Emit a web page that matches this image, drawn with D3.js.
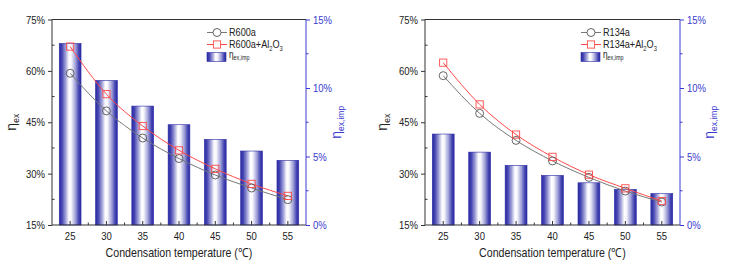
<!DOCTYPE html>
<html><head><meta charset="utf-8">
<script src="https://cdn.jsdelivr.net/npm/d3@7/dist/d3.min.js"></script>
<style>body{margin:0;background:#fff}svg{display:block;font-family:"Liberation Sans",Arial,sans-serif}</style>
</head><body><svg id="c" width="730" height="268"></svg>
<script>
const categories = ["25","30","35","40","45","50","55"];
const leftTicks = [15,30,45,60,75];
const rightTicks = [0,5,10,15];
const r600a = [59.3,48.3,40.4,34.4,29.6,25.8,22.4];
const r600aAl = [67.1,53.2,43.9,36.8,31.4,27.0,23.5];
const r600aImp = [13.25,10.55,8.68,7.32,6.25,5.40,4.72];
const r134a = [58.6,47.6,39.7,33.7,28.9,24.9,21.7];
const r134aAl = [62.4,50.2,41.4,34.9,29.7,25.7,22.0];
const r134aImp = [6.64,5.32,4.35,3.62,3.08,2.60,2.29];

const FONT = '"Liberation Sans",Arial,sans-serif';
const SQ = 0.83;
function squeeze(sel, s) {
  sel.each(function() {
    const t = d3.select(this);
    const ax = +(t.attr("x") || 0);
    const prev = t.attr("transform") || "";
    t.attr("transform", `${prev} translate(${ax},0) scale(${s},1) translate(${-ax},0)`);
  });
}

const svg = d3.select("#c");
const defs = svg.append("defs");
const g = defs.append("linearGradient").attr("id","barg").attr("x1","0").attr("x2","1").attr("y1","0").attr("y2","0");
[[0,"#2a2aa4"],[0.12,"#4444b2"],[0.3,"#a4a4da"],[0.45,"#ffffff"],[0.55,"#f6f6fc"],[0.75,"#9c9cd6"],[0.9,"#4444b2"],[1,"#2a2aa4"]]
  .forEach(([o,c])=>g.append("stop").attr("offset",o).attr("stop-color",c));

const BLUE = "#3a3ad0";
const AXC = "#333";

function panel(x0, x1, names, base, nano, imp, titleX, rtitleX, legX) {
  const y0 = 19.5, y1 = 225;
  const x = d3.scaleBand().domain(categories).range([x0, x1]).padding(0);
  const yl = d3.scaleLinear().domain([15,75]).range([y1,y0]);
  const yr = d3.scaleLinear().domain([0,15]).range([y1,y0]);
  const root = svg.append("g");

  const bw = x.bandwidth()*0.6;
  root.selectAll("rect.bar").data(imp).join("rect")
    .attr("x",(d,i)=>x(categories[i])+x.bandwidth()/2-bw/2)
    .attr("y",d=>yr(d)).attr("width",bw).attr("height",d=>y1-yr(d))
    .attr("fill","url(#barg)").attr("stroke","#2a2aa4").attr("stroke-width",0.6);

  root.append("path").attr("d",`M${x1},${y0}H${x0}V${y1}H${x1}`).attr("fill","none").attr("stroke",AXC).attr("stroke-width",1);

  const la = root.append("g").attr("transform",`translate(${x0},0)`)
    .call(d3.axisLeft(yl).tickValues(leftTicks).tickSize(4).tickFormat(d=>d+"%"));
  la.select(".domain").remove();
  la.selectAll("line").attr("stroke",AXC);
  la.selectAll("text").attr("font-size",11.5).attr("fill","#222").attr("font-family",FONT).call(squeeze,SQ);
  root.append("g").selectAll("line").data([22.5,37.5,52.5,67.5]).join("line")
    .attr("x1",x0).attr("x2",x0+2.5).attr("y1",d=>yl(d)).attr("y2",d=>yl(d)).attr("stroke",AXC);

  const ra = root.append("g").attr("transform",`translate(${x1},0)`)
    .call(d3.axisRight(yr).tickValues(rightTicks).tickSize(4).tickFormat(d=>d+"%"));
  ra.select(".domain").attr("stroke",BLUE).attr("d",`M0,${y0}V${y1}`);
  ra.selectAll("line").attr("stroke",BLUE);
  ra.selectAll("text").attr("font-size",11.5).attr("fill",BLUE).attr("font-family",FONT).call(squeeze,SQ);
  root.append("g").selectAll("line").data([2.5,7.5,12.5]).join("line")
    .attr("x1",x1).attr("x2",x1+2.5).attr("y1",d=>yr(d)).attr("y2",d=>yr(d)).attr("stroke",BLUE);

  const ba = root.append("g").attr("transform",`translate(0,${y1})`)
    .call(d3.axisBottom(x).tickSize(-4).tickPadding(7));
  ba.select(".domain").remove();
  ba.selectAll("line").attr("stroke",AXC);
  ba.selectAll("text").attr("font-size",11.5).attr("fill","#222").attr("font-family",FONT).call(squeeze,SQ);
  root.append("g").selectAll("line").data(categories.slice(1)).join("line")
    .attr("x1",d=>x(d)).attr("x2",d=>x(d)).attr("y1",y1).attr("y2",y1-2.5).attr("stroke",AXC);

  root.append("text").attr("x",(x0+x1)/2).attr("y",257).attr("text-anchor","middle")
    .attr("font-size",12.5).attr("fill","#222").text("Condensation temperature (\u2103)").call(squeeze,0.85);

  const lt = root.append("text").attr("transform",`translate(${titleX},${(y0+y1)/2}) rotate(-90)`)
    .attr("text-anchor","middle").attr("font-size",14).attr("fill","#222");
  lt.append("tspan").text("\u03b7");
  lt.append("tspan").attr("font-size",8.5).attr("dy",3).text("ex");
  const rt = root.append("text").attr("transform",`translate(${rtitleX},${(y0+y1)/2}) rotate(-90)`)
    .attr("text-anchor","middle").attr("font-size",14).attr("fill",BLUE);
  rt.append("tspan").text("\u03b7");
  rt.append("tspan").attr("font-size",8.5).attr("dy",3).text("ex,imp");

  const cx = (d,i)=>x(categories[i])+x.bandwidth()/2;
  const line = d3.line().x(cx).y(d=>yl(d)).curve(d3.curveMonotoneX);
  root.append("path").attr("d",line(base)).attr("fill","none").attr("stroke","#777").attr("stroke-width",1);
  root.append("path").attr("d",line(nano)).attr("fill","none").attr("stroke","#ff4a4a").attr("stroke-width",1);
  root.selectAll("circle.m").data(base).join("circle").attr("cx",cx).attr("cy",d=>yl(d)).attr("r",4)
    .attr("fill","none").attr("stroke","#555").attr("stroke-width",0.9);
  root.selectAll("rect.m").data(nano).join("rect").attr("x",(d,i)=>cx(d,i)-3.6).attr("y",d=>yl(d)-3.6)
    .attr("width",7.2).attr("height",7.2).attr("fill","none").attr("stroke","#ff4a4a").attr("stroke-width",0.9);

  const L = root.append("g");
  const rows = [32.5, 44.5];
  L.append("line").attr("x1",legX).attr("x2",legX+20).attr("y1",rows[0]).attr("y2",rows[0]).attr("stroke","#777");
  L.append("circle").attr("cx",legX+10).attr("cy",rows[0]).attr("r",4).attr("fill","#fff").attr("stroke","#555").attr("stroke-width",0.9);
  L.append("line").attr("x1",legX).attr("x2",legX+20).attr("y1",rows[1]).attr("y2",rows[1]).attr("stroke","#ff4a4a");
  L.append("rect").attr("x",legX+6.4).attr("y",rows[1]-3.6).attr("width",7.2).attr("height",7.2).attr("fill","#fff").attr("stroke","#ff4a4a").attr("stroke-width",0.9);
  L.append("rect").attr("x",legX).attr("y",52.5).attr("width",19).attr("height",9).attr("fill","url(#barg)").attr("stroke","#2a2aa4").attr("stroke-width",0.6);
  L.append("text").attr("x",legX+22).attr("y",rows[0]+4).attr("font-size",11).attr("fill","#222").text(names[0]).call(squeeze,SQ);
  const t2 = L.append("text").attr("x",legX+22).attr("y",rows[1]+4).attr("font-size",11).attr("fill","#222");
  t2.append("tspan").text(names[0]+"+Al");
  t2.append("tspan").attr("font-size",7).attr("dy",3).text("2");
  t2.append("tspan").attr("dy",-3).text("O");
  t2.append("tspan").attr("font-size",7).attr("dy",3).text("3");
  t2.call(squeeze,SQ);
  const t3 = L.append("text").attr("x",legX+22).attr("y",58).attr("font-size",10).attr("fill","#222");
  t3.append("tspan").text("\u03b7");
  t3.append("tspan").attr("font-size",6.5).attr("dy",2).text("ex,imp");
  t3.call(squeeze,SQ);
}

panel(52, 306, ["R600a"], r600a, r600aAl, r600aImp, 16, 341, 207);
panel(425, 680, ["R134a"], r134a, r134aAl, r134aImp, 387, 714, 581);
</script></body></html>
